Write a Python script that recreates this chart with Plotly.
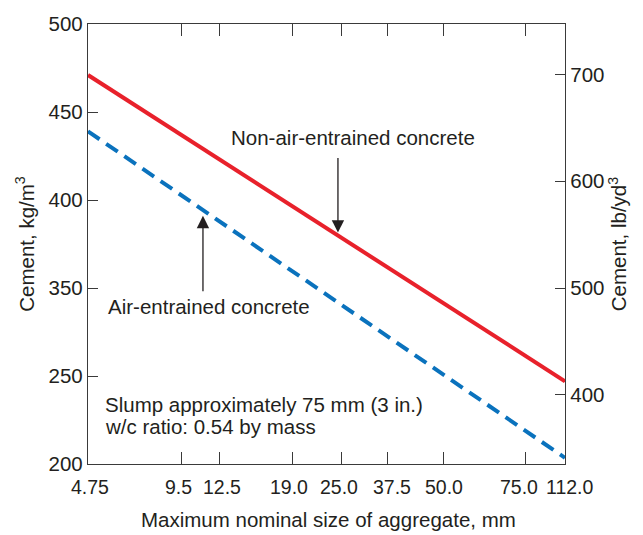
import numpy as np
import plotly.graph_objects as go

# ---- data ----
size_labels = ["4.75", "9.5", "12.5", "19.0", "25.0", "37.5", "50.0", "75.0", "112.0"]
sizes_mm = [4.75, 9.5, 12.5, 19.0, 25.0, 37.5, 50.0, 75.0, 112.0]
# relative placement of each sieve size along the (non-uniform) x scale of the original chart
size_scale = [0.0, 0.195, 0.275, 0.429, 0.532, 0.628, 0.746, 0.918, 1.0]

line_sizes = [4.75, 112.0]
non_air_kg = [421.0, 247.0]
air_kg = [389.0, 203.5]

left_tickvals = [200, 250, 300, 350, 400, 450]
left_ticktext = ["200", "250", "350", "400", "450", "500"]
right_tickvals = [400, 500, 600, 700]

# small horizontal nudges (px) of the x tick labels, as set in the original artwork
label_nudge = [2, -2.5, 2.5, -4, -3, 4, 0, -7, 5]

FONT = "Liberation Sans, Arial, Helvetica, sans-serif"
TXT = "#231f20"
AX = "#3a3a3a"
FS = 20.5

def xs(vals):
    return list(np.interp(vals, sizes_mm, size_scale))

fig = go.Figure()
fig.add_trace(go.Scatter(x=xs(line_sizes), y=non_air_kg, mode="lines",
                         line=dict(color="#e8212b", width=4), showlegend=False, cliponaxis=False))
fig.add_trace(go.Scatter(x=xs(line_sizes), y=air_kg, mode="lines",
                         line=dict(color="#0a72bd", width=4, dash="14px,8px"), showlegend=False,
                         cliponaxis=False))
# invisible trace for right axis
fig.add_trace(go.Scatter(x=[0], y=[500], yaxis="y2", mode="markers",
                         marker=dict(opacity=0), showlegend=False, hoverinfo="skip"))

fig.update_layout(
    width=643, height=535,
    margin=dict(l=88, r=78, t=15, b=71),
    paper_bgcolor="white", plot_bgcolor="white",
    font=dict(family=FONT, size=FS, color=TXT),
    xaxis=dict(range=[0, 1], tickvals=xs(sizes_mm), showticklabels=False,
               showgrid=False, zeroline=False, showline=True, linecolor=AX, linewidth=1.3,
               ticks="inside", ticklen=12, tickcolor=AX, tickwidth=1.3, mirror="ticks"),
    yaxis=dict(range=[200, 450], tickvals=left_tickvals, ticktext=left_ticktext,
               showgrid=False, zeroline=False, showline=True, linecolor=AX, linewidth=1.3,
               ticks="inside", ticklen=10, tickcolor=AX, tickwidth=1.3,
               tickfont=dict(size=FS, color=TXT),
               title=dict(text="Cement, kg/m<sup>3</sup>", font=dict(size=FS, color=TXT), standoff=8)),
    yaxis2=dict(range=[335.4, 747.2], tickvals=right_tickvals, overlaying="y", side="right",
                showgrid=False, zeroline=False, showline=True, linecolor=AX, linewidth=1.3,
                ticks="inside", ticklen=10, tickcolor=AX, tickwidth=1.3,
                tickfont=dict(size=FS, color=TXT),
                title=dict(text="Cement, lb/yd<sup>3</sup>", font=dict(size=FS, color=TXT), standoff=8)),
)

# x tick labels (placed at the axis' own tick values)
for xv, lab, dx in zip(xs(sizes_mm), size_labels, label_nudge):
    fig.add_annotation(x=xv, y=0, xref="x", yref="paper", text=lab, showarrow=False,
                       font=dict(family=FONT, size=19.5, color=TXT),
                       xanchor="center", yanchor="middle", xshift=dx, yshift=-23)
# x axis title
fig.add_annotation(x=0.5, y=0, xref="paper", yref="paper", text="Maximum nominal size of aggregate, mm",
                   showarrow=False, font=dict(family=FONT, size=FS, color=TXT),
                   xanchor="center", yanchor="middle", xshift=1.5, yshift=-55)

ann_font = dict(family=FONT, size=FS, color=TXT)
# arrows
fig.add_annotation(x=0.524, y=331.5, xref="x", yref="y", ax=0, ay=-76, axref="pixel", ayref="pixel",
                   text="", showarrow=True, arrowhead=2, arrowsize=1.9, arrowwidth=1.3, arrowcolor=TXT)
fig.add_annotation(x=0.241, y=341.0, xref="x", yref="y", ax=0, ay=77, axref="pixel", ayref="pixel",
                   text="", showarrow=True, arrowhead=2, arrowsize=1.9, arrowwidth=1.3, arrowcolor=TXT)
# labels
fig.add_annotation(x=0.5556, y=385.5, xref="x", yref="y", text="Non-air-entrained concrete",
                   showarrow=False, font=ann_font, xanchor="center", yanchor="middle")
fig.add_annotation(x=0.2537, y=289.5, xref="x", yref="y", text="Air-entrained concrete",
                   showarrow=False, font=ann_font, xanchor="center", yanchor="middle")
fig.add_annotation(x=0.0314, y=233.8, xref="x", yref="y", text="Slump approximately 75 mm (3 in.)",
                   showarrow=False, font=ann_font, xanchor="left", yanchor="middle")
fig.add_annotation(x=0.0314, y=221.3, xref="x", yref="y", text="w/c ratio: 0.54 by mass",
                   showarrow=False, font=ann_font, xanchor="left", yanchor="middle")

fig.write_html("out.html")
